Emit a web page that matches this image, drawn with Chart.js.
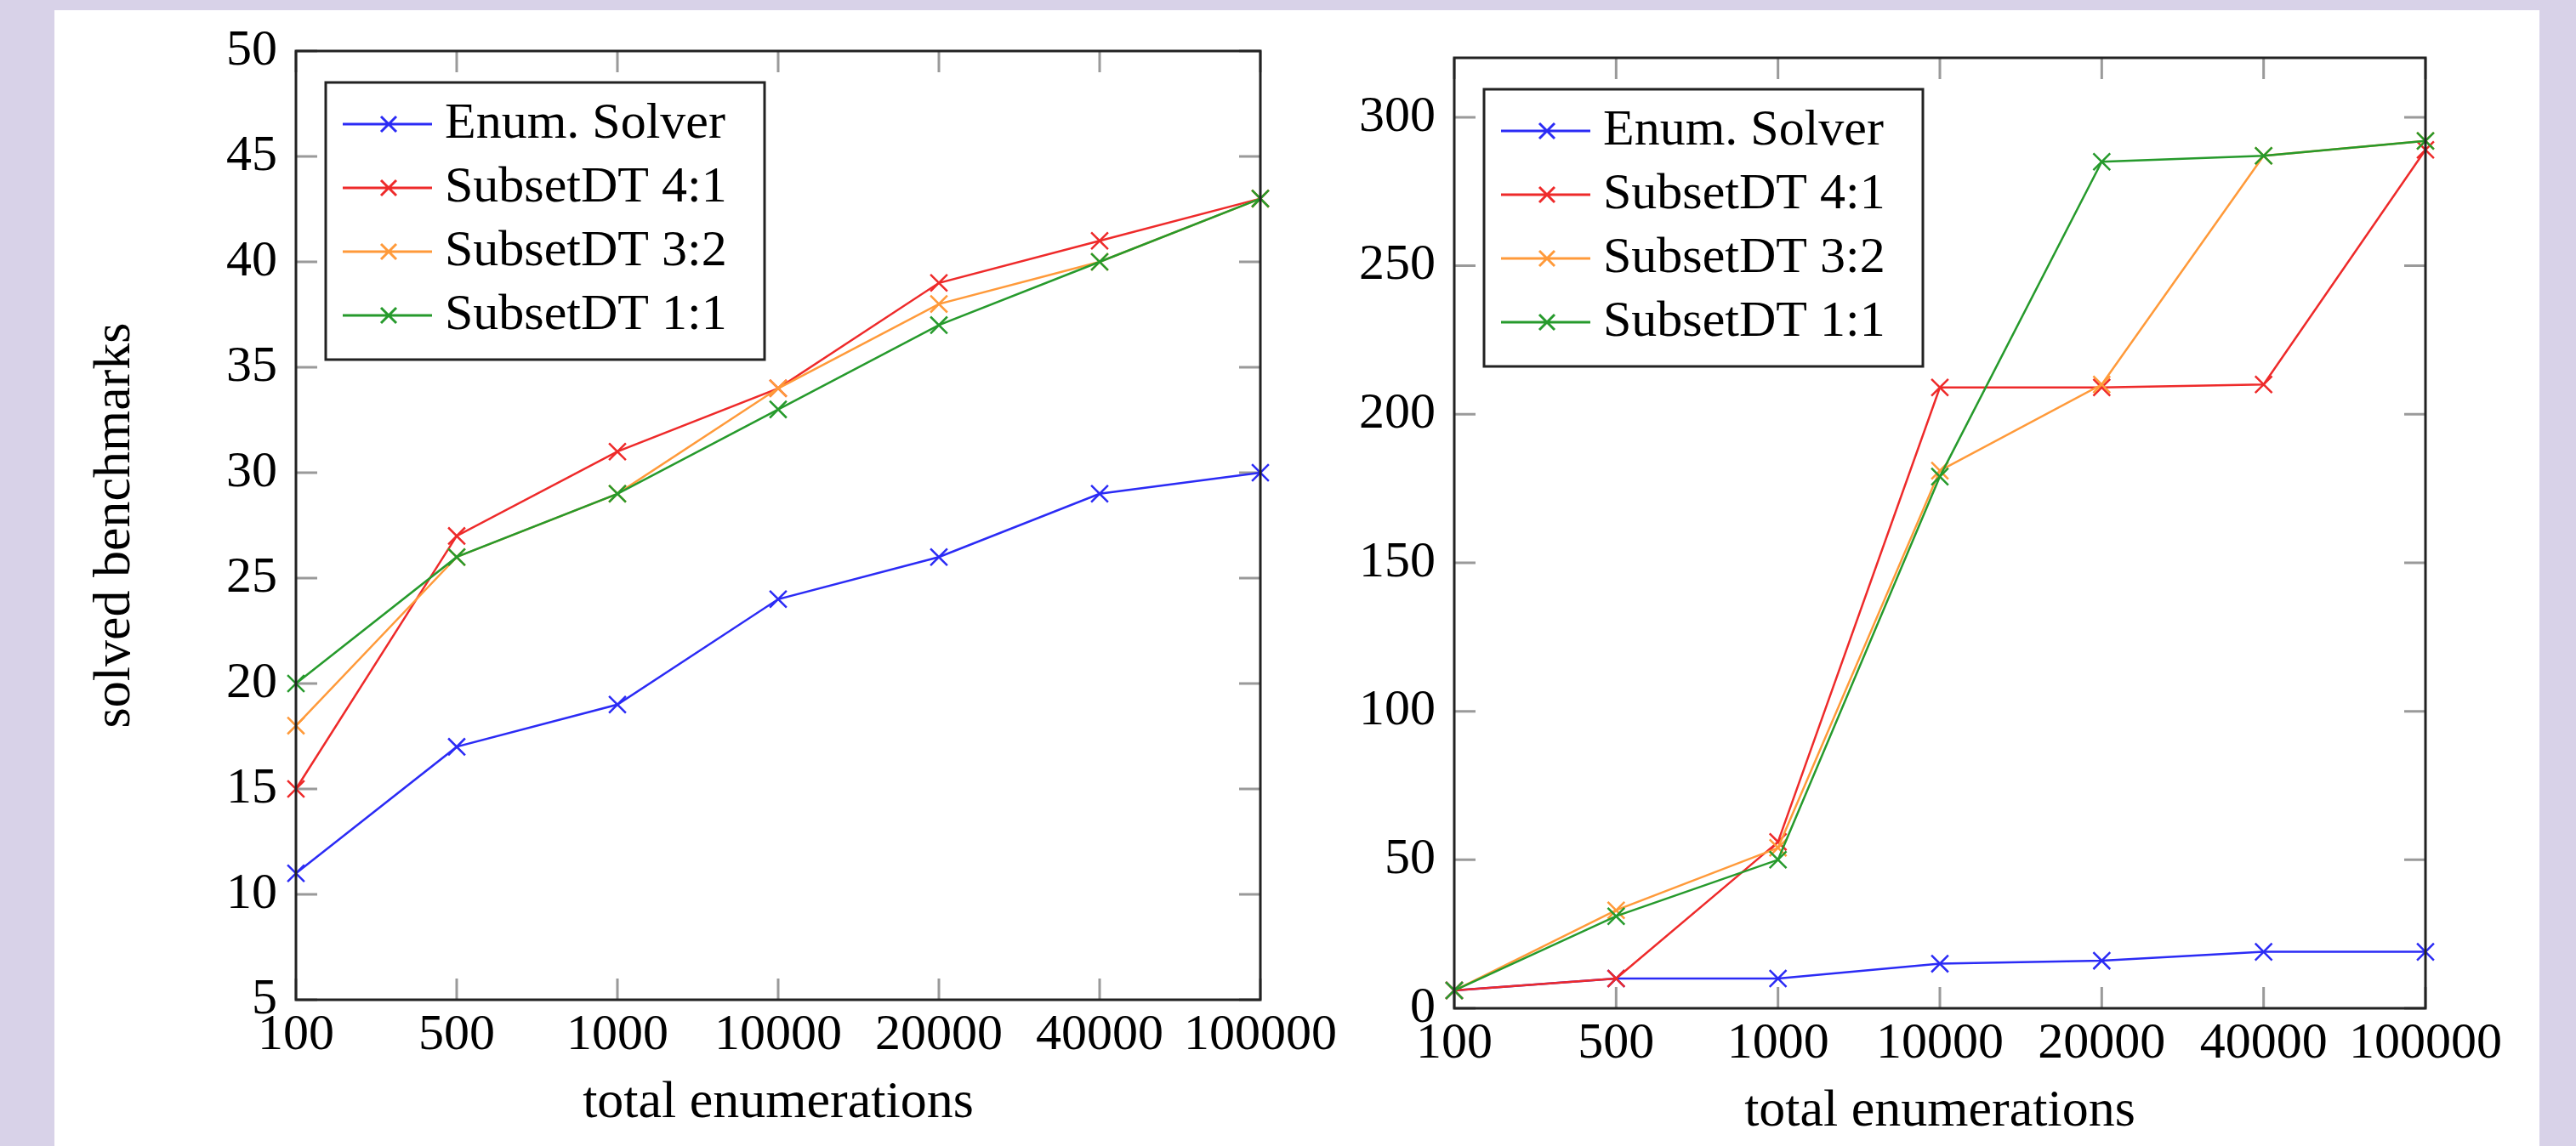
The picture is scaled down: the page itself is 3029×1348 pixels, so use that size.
<!DOCTYPE html>
<html>
<head>
<meta charset="utf-8">
<script src="https://cdn.jsdelivr.net/npm/chart.js@4.4.0/dist/chart.umd.min.js"></script>
<style>
  html, body { margin: 0; padding: 0; width: 3029px; height: 1348px; overflow: hidden; background: #d8d2e8; }
  #panel { position: absolute; left: 64px; top: 12px; width: 2922px; height: 1336px; background: #fff; }
  #leftChart { position: absolute; left: 0; top: 0; }
  #rightChart { position: absolute; left: 1600px; top: 10px; }
</style>
</head>
<body>
<div id="panel"></div>
<canvas id="leftChart" width="1600" height="1348"></canvas>
<canvas id="rightChart" width="1429" height="1348"></canvas>
<script>
/* data */
const enumerations = ['100', '500', '1000', '10000', '20000', '40000', '100000'];
const seriesNames = ['Enum. Solver', 'SubsetDT 4:1', 'SubsetDT 3:2', 'SubsetDT 1:1'];
const seriesColors = ['#2b2bf5', '#ee2a2a', '#ff9a3a', '#269a2c'];

// left plot
const leftEnum = [11, 17, 19, 24, 26, 29, 30];
const left41 = [15, 27, 31, 34, 39, 41, 43];
const left32 = [18, 26, 29, 34, 38, 40, 43];
const left11 = [20, 26, 29, 33, 37, 40, 43];

// right plot
const rightEnum = [6, 10, 10, 15, 16, 19, 19];
const right41 = [6, 10, 56, 209, 209, 210, 289];
const right32 = [6, 33, 54, 181, 210, 287, 292];
const right11 = [6, 31, 50, 179, 285, 287, 292];

const SERIF = '"Liberation Serif", "Times New Roman", serif';

/* inward tick marks + frame, like pgfplots */
const innerTicks = {
    id: 'innerTicks',
    beforeDatasetsDraw(chart) {
        const { ctx, chartArea: a, scales: { x, y } } = chart;
        const len = 25;
        ctx.save();
        ctx.strokeStyle = '#9a9a9a';
        ctx.lineWidth = 3;
        ctx.beginPath();
        x.ticks.forEach((t, i) => {
            const px = x.getPixelForTick(i);
            ctx.moveTo(px, a.bottom); ctx.lineTo(px, a.bottom - len);
            ctx.moveTo(px, a.top); ctx.lineTo(px, a.top + len);
        });
        y.ticks.forEach(t => {
            const py = y.getPixelForValue(t.value);
            ctx.moveTo(a.left, py); ctx.lineTo(a.left + len, py);
            ctx.moveTo(a.right, py); ctx.lineTo(a.right - len, py);
        });
        ctx.stroke();
        ctx.restore();
    },
    afterDatasetsDraw(chart) {
        const { ctx, chartArea: a } = chart;
        ctx.save();
        ctx.strokeStyle = '#222';
        ctx.lineWidth = 3;
        ctx.strokeRect(a.left, a.top, a.width, a.height);
        ctx.restore();
    }
};

/* boxed legend in the upper left corner of the plot */
const boxLegend = {
    id: 'boxLegend',
    afterDraw(chart) {
        const { ctx, chartArea: a } = chart;
        const x0 = a.left + 35, y0 = a.top + 37;
        const w = 516, h = 326;
        ctx.save();
        ctx.fillStyle = '#fff';
        ctx.fillRect(x0, y0, w, h);
        ctx.strokeStyle = '#222';
        ctx.lineWidth = 3;
        ctx.strokeRect(x0, y0, w, h);
        ctx.font = '60px ' + SERIF;
        ctx.textBaseline = 'middle';
        chart.data.datasets.forEach((ds, i) => {
            const y = y0 + 49 + i * 75;
            const mx = x0 + 74, r = 9;
            ctx.strokeStyle = ds.borderColor;
            ctx.lineWidth = 3;
            ctx.beginPath();
            ctx.moveTo(x0 + 20, y); ctx.lineTo(x0 + 125, y);
            ctx.moveTo(mx - r, y - r); ctx.lineTo(mx + r, y + r);
            ctx.moveTo(mx - r, y + r); ctx.lineTo(mx + r, y - r);
            ctx.stroke();
            ctx.fillStyle = '#000';
            ctx.fillText(ds.label, x0 + 140, y);
        });
        ctx.restore();
    }
};

function makeDatasets(values) {
    return values.map((v, i) => ({
        label: seriesNames[i],
        data: v,
        borderColor: seriesColors[i],
        backgroundColor: seriesColors[i],
        borderWidth: 2.5,
        pointStyle: 'crossRot',
        pointRadius: 14,
        pointBorderWidth: 2.5,
        tension: 0,
        clip: false,
        order: values.length - i
    }));
}

function makeChart(id, values, yMin, yMax, yTitle, yWidth, pad) {
    return new Chart(document.getElementById(id), {
        type: 'line',
        data: { labels: enumerations, datasets: makeDatasets(values) },
        plugins: [innerTicks, boxLegend],
        options: {
            responsive: false,
            animation: false,
            events: [],
            layout: { padding: pad },
            plugins: { legend: { display: false }, tooltip: { enabled: false } },
            scales: {
                x: {
                    offset: false,
                    grid: { display: false, drawTicks: false },
                    border: { display: false },
                    ticks: { color: '#000', padding: 6, maxRotation: 0, autoSkip: false,
                             font: { family: SERIF, size: 60, lineHeight: 1.2 } },
                    title: { display: true, text: 'total enumerations', color: '#000',
                             padding: { top: 0, bottom: 13 },
                             font: { family: SERIF, size: 62, lineHeight: 1.2 } },
                    afterFit: s => { s.height = 172; }
                },
                y: {
                    min: yMin,
                    max: yMax,
                    grid: { display: false, drawTicks: false },
                    border: { display: false },
                    ticks: { color: '#000', padding: 22, stepSize: yMin === 5 ? 5 : 50, includeBounds: false,
                             font: { family: SERIF, size: 60, lineHeight: 1.2 } },
                    title: { display: yTitle !== '', text: yTitle, color: '#000',
                             padding: { top: 99, bottom: 0 },
                             font: { family: SERIF, size: 62, lineHeight: 1.2 } },
                    afterFit: s => { s.width = yWidth; }
                }
            }
        }
    });
}

makeChart('leftChart', [leftEnum, left41, left32, left11], 5, 50, 'solved benchmarks', 348,
    { left: 0, top: 60, right: 118, bottom: 0 });
makeChart('rightChart', [rightEnum, right41, right32, right11], 0, 320, '', 110,
    { left: 0, top: 47, right: 177, bottom: 0 });
</script>
</body>
</html>
